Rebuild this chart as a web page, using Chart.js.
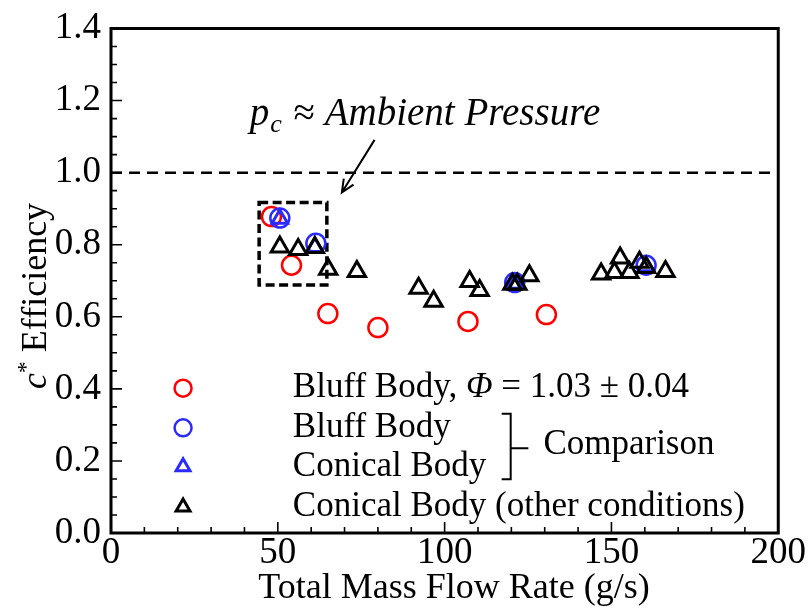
<!DOCTYPE html>
<html>
<head>
<meta charset="utf-8">
<script src="https://cdn.jsdelivr.net/npm/chart.js@4.4.1/dist/chart.umd.min.js"></script>
<style>
  html, body { margin: 0; padding: 0; background: #ffffff; }
  #wrap { width: 808px; height: 610px; }
</style>
</head>
<body>
<div id="wrap"><canvas id="c" width="808" height="610"></canvas></div>
<script>
// ---- data ----
const bluffPhiX = [48.1, 54.1, 65.0, 80.0, 107.0, 130.5];
const bluffPhiY = [0.878, 0.743, 0.609, 0.570, 0.587, 0.606];

const bluffCmpX = [50.6, 61.4, 121.0, 160.4];
const bluffCmpY = [0.874, 0.804, 0.695, 0.743];

const conicalCmpX = [50.6, 61.1, 121.0, 160.4];
const conicalCmpY = [0.872, 0.794, 0.692, 0.740];

const conicalOtherX = [50.6, 56.1, 61.1, 65.1, 73.7, 92.2, 96.7, 107.5, 110.5, 120.3, 121.8, 125.4, 146.9, 150.9, 152.6, 155.4, 158.4, 160.4, 166.2];
const conicalOtherY = [0.794, 0.787, 0.792, 0.732, 0.726, 0.679, 0.643, 0.698, 0.673, 0.690, 0.690, 0.714, 0.719, 0.723, 0.763, 0.723, 0.751, 0.737, 0.726];

const xTickValues = [0, 50, 100, 150, 200];
const yTickValues = [0.0, 0.2, 0.4, 0.6, 0.8, 1.0, 1.2, 1.4];

const legendLabels = ["Bluff Body, ", "Bluff Body", "Conical Body", "Conical Body (other conditions)"];
const phiLabel = ["\u03A6", " = 1.03 \u00B1 0.04"];
const comparisonLabel = "Comparison";
const xTitle = "Total Mass Flow Rate (g/s)";
const yTitleParts = ["c", "*", " Efficiency"];
const noteParts = ["p", "c", " \u2248 ", "Ambient Pressure"];
const ambientLevel = 1.0;

const toPts = (xs, ys) => xs.map((x, i) => ({ x: x, y: ys[i] }));

const SERIF = "'Liberation Serif', 'Times New Roman', serif";
const FS = 35;
const TICK_FS = 37;
const TITLE_FS = 36;
const NOTE_FS = 39;

const overlay = {
  id: 'overlay',
  beforeDatasetsDraw(chart) {
    const ctx = chart.ctx;
    const xs = chart.scales.x, ys = chart.scales.y;
    const ca = chart.chartArea;
    ctx.save();
    // dashed ambient line
    ctx.strokeStyle = '#000';
    ctx.lineWidth = 2.5;
    ctx.setLineDash([11, 7]);
    const yl = ys.getPixelForValue(ambientLevel);
    ctx.beginPath();
    ctx.moveTo(ca.left, yl);
    ctx.lineTo(ca.right, yl);
    ctx.stroke();
    // dashed box
    ctx.lineWidth = 3.5;
    ctx.setLineDash([9, 4.5]);
    const bx0 = xs.getPixelForValue(44.4), bx1 = xs.getPixelForValue(64.7);
    const by0 = ys.getPixelForValue(0.917), by1 = ys.getPixelForValue(0.688);
    ctx.strokeRect(bx0, by0, bx1 - bx0, by1 - by0);
    ctx.setLineDash([]);
    // arrow
    const ax0 = xs.getPixelForValue(79.0), ay0 = ys.getPixelForValue(1.091);
    const ax1 = xs.getPixelForValue(69.2), ay1 = ys.getPixelForValue(0.945);
    ctx.lineWidth = 2;
    ctx.beginPath();
    ctx.moveTo(ax0, ay0);
    ctx.lineTo(ax1, ay1);
    const ang = Math.atan2(ay1 - ay0, ax1 - ax0);
    const hl = 14;
    ctx.moveTo(ax1 - hl * Math.cos(ang - 0.42), ay1 - hl * Math.sin(ang - 0.42));
    ctx.lineTo(ax1, ay1);
    ctx.lineTo(ax1 - hl * Math.cos(ang + 0.42), ay1 - hl * Math.sin(ang + 0.42));
    ctx.stroke();
    // annotation text
    ctx.fillStyle = '#000';
    ctx.textBaseline = 'alphabetic';
    ctx.textAlign = 'left';
    let tx = xs.getPixelForValue(41.6);
    const ty = ys.getPixelForValue(1.133);
    ctx.font = 'italic ' + NOTE_FS + 'px ' + SERIF;
    ctx.fillText(noteParts[0], tx, ty); tx += ctx.measureText(noteParts[0]).width + 1;
    ctx.font = 'italic 26px ' + SERIF;
    ctx.fillText(noteParts[1], tx, ty + 7); tx += ctx.measureText(noteParts[1]).width + 2;
    ctx.font = NOTE_FS + 'px ' + SERIF;
    ctx.fillText(noteParts[2], tx, ty); tx += ctx.measureText(noteParts[2]).width;
    ctx.font = 'italic ' + NOTE_FS + 'px ' + SERIF;
    ctx.fillText(noteParts[3], tx, ty);
    ctx.restore();
  },
  afterDraw(chart) {
    const ctx = chart.ctx;
    const xs = chart.scales.x, ys = chart.scales.y;
    const ca = chart.chartArea;
    ctx.save();
    // frame
    ctx.strokeStyle = '#000';
    ctx.lineWidth = 3;
    ctx.strokeRect(ca.left, ca.top, ca.right - ca.left, ca.bottom - ca.top);
    // inward ticks
    ctx.lineWidth = 1.6;
    ctx.beginPath();
    for (let v = 0; v <= 200.001; v += 10) {
      const px = xs.getPixelForValue(v);
      const len = (Math.round(v) % 50 === 0) ? 11 : 6;
      ctx.moveTo(px, ca.bottom);
      ctx.lineTo(px, ca.bottom - len);
    }
    for (let k = 0; k <= 28; k++) {
      const v = k * 0.05;
      const py = ys.getPixelForValue(v);
      const len = (k % 4 === 0) ? 11 : 6;
      ctx.moveTo(ca.left, py);
      ctx.lineTo(ca.left + len, py);
    }
    ctx.stroke();

    // x axis title
    ctx.fillStyle = '#000';
    ctx.textBaseline = 'middle';
    ctx.textAlign = 'center';
    ctx.font = TITLE_FS + 'px ' + SERIF;
    ctx.fillText(xTitle, 454, 589);

    // y axis title (mixed fonts)
    ctx.translate(35, 296);
    ctx.rotate(-Math.PI / 2);
    ctx.textBaseline = 'alphabetic';
    ctx.textAlign = 'left';
    ctx.font = 'italic ' + TITLE_FS + 'px ' + SERIF;
    const w0 = ctx.measureText(yTitleParts[0]).width;
    ctx.font = '24px ' + SERIF;
    const w1 = ctx.measureText(yTitleParts[1]).width;
    ctx.font = TITLE_FS + 'px ' + SERIF;
    const w2 = ctx.measureText(yTitleParts[2]).width;
    let lx = -(w0 + w1 + w2) / 2;
    const base = 11;
    ctx.font = 'italic ' + TITLE_FS + 'px ' + SERIF;
    ctx.fillText(yTitleParts[0], lx, base); lx += w0;
    ctx.font = '24px ' + SERIF;
    ctx.fillText(yTitleParts[1], lx, base - 13); lx += w1;
    ctx.font = TITLE_FS + 'px ' + SERIF;
    ctx.fillText(yTitleParts[2], lx, base);
    ctx.restore();

    // legend
    ctx.save();
    const ds = chart.data.datasets;
    const mx = xs.getPixelForValue(21.6);
    const txX = xs.getPixelForValue(54.5);
    const rowsY = [0.402, 0.292, 0.184, 0.072].map(v => ys.getPixelForValue(v));
    const legendR = [8.5, 8.5, 8, 8];
    for (let i = 0; i < 4; i++) {
      ctx.strokeStyle = ds[i].borderColor;
      ctx.fillStyle = 'rgba(0,0,0,0)';
      ctx.lineWidth = ds[i].borderWidth;
      Chart.helpers.drawPoint(ctx, { pointStyle: ds[i].pointStyle, radius: legendR[i], rotation: 0, borderWidth: ds[i].borderWidth }, mx, rowsY[i]);
    }
    ctx.fillStyle = '#000';
    ctx.textBaseline = 'middle';
    ctx.textAlign = 'left';
    ctx.font = FS + 'px ' + SERIF;
    ctx.fillText(legendLabels[0], txX, rowsY[0]);
    let px = txX + ctx.measureText(legendLabels[0]).width;
    ctx.font = 'italic ' + FS + 'px ' + SERIF;
    ctx.fillText(phiLabel[0], px, rowsY[0]);
    px += ctx.measureText(phiLabel[0]).width;
    ctx.font = FS + 'px ' + SERIF;
    ctx.fillText(phiLabel[1], px, rowsY[0]);
    for (let i = 1; i < 4; i++) ctx.fillText(legendLabels[i], txX, rowsY[i]);
    // bracket
    const bL = xs.getPixelForValue(117.1), bR = xs.getPixelForValue(119.8), bT = xs.getPixelForValue(125.1);
    const bTop = ys.getPixelForValue(0.331), bBot = ys.getPixelForValue(0.149), bMid = ys.getPixelForValue(0.235);
    ctx.strokeStyle = '#000';
    ctx.lineWidth = 2;
    ctx.beginPath();
    ctx.moveTo(bL, bTop); ctx.lineTo(bR, bTop); ctx.lineTo(bR, bBot); ctx.lineTo(bL, bBot);
    ctx.moveTo(bR, bMid); ctx.lineTo(bT, bMid);
    ctx.stroke();
    ctx.fillText(comparisonLabel, xs.getPixelForValue(129.6), ys.getPixelForValue(0.245));
    ctx.restore();
  }
};

new Chart(document.getElementById('c'), {
  type: 'scatter',
  data: {
    datasets: [
      { label: 'Bluff Body, \u03A6 = 1.03 \u00B1 0.04', data: toPts(bluffPhiX, bluffPhiY), pointStyle: 'circle', pointRadius: 9.5, borderColor: '#ff0000', backgroundColor: 'rgba(0,0,0,0)', borderWidth: 2.5, order: 4 },
      { label: 'Bluff Body', data: toPts(bluffCmpX, bluffCmpY), pointStyle: 'circle', pointRadius: 9.5, borderColor: '#2b2bff', backgroundColor: 'rgba(0,0,0,0)', borderWidth: 2.5, order: 3 },
      { label: 'Conical Body', data: toPts(conicalCmpX, conicalCmpY), pointStyle: 'triangle', pointRadius: 9, borderColor: '#2b2bff', backgroundColor: 'rgba(0,0,0,0)', borderWidth: 3, order: 2 },
      { label: 'Conical Body (other conditions)', data: toPts(conicalOtherX, conicalOtherY), pointStyle: 'triangle', pointRadius: 10, borderColor: '#000000', backgroundColor: 'rgba(0,0,0,0)', borderWidth: 3, order: 1 }
    ]
  },
  options: {
    responsive: false,
    animation: false,
    layout: { padding: { left: 0, right: 29, top: 25, bottom: 0 } },
    plugins: { legend: { display: false }, tooltip: { enabled: false } },
    scales: {
      x: {
        type: 'linear', min: 0, max: 200,
        afterBuildTicks: s => { s.ticks = xTickValues.map(v => ({ value: v })); },
        afterFit: s => { s.height = 77; },
        grid: { display: false, drawTicks: false },
        border: { display: false },
        ticks: { color: '#000', padding: 2, maxRotation: 0, font: { family: SERIF, size: TICK_FS, lineHeight: 1 }, callback: v => String(v) },
        title: { display: false, text: xTitle }
      },
      y: {
        type: 'linear', min: 0, max: 1.4,
        afterBuildTicks: s => { s.ticks = yTickValues.map(v => ({ value: v })); },
        afterFit: s => { s.width = 111; },
        grid: { display: false, drawTicks: false },
        border: { display: false },
        ticks: { color: '#000', padding: 10, font: { family: SERIF, size: TICK_FS, lineHeight: 1 }, callback: v => Number(v).toFixed(1) }
      }
    }
  },
  plugins: [overlay]
});
</script>
</body>
</html>
